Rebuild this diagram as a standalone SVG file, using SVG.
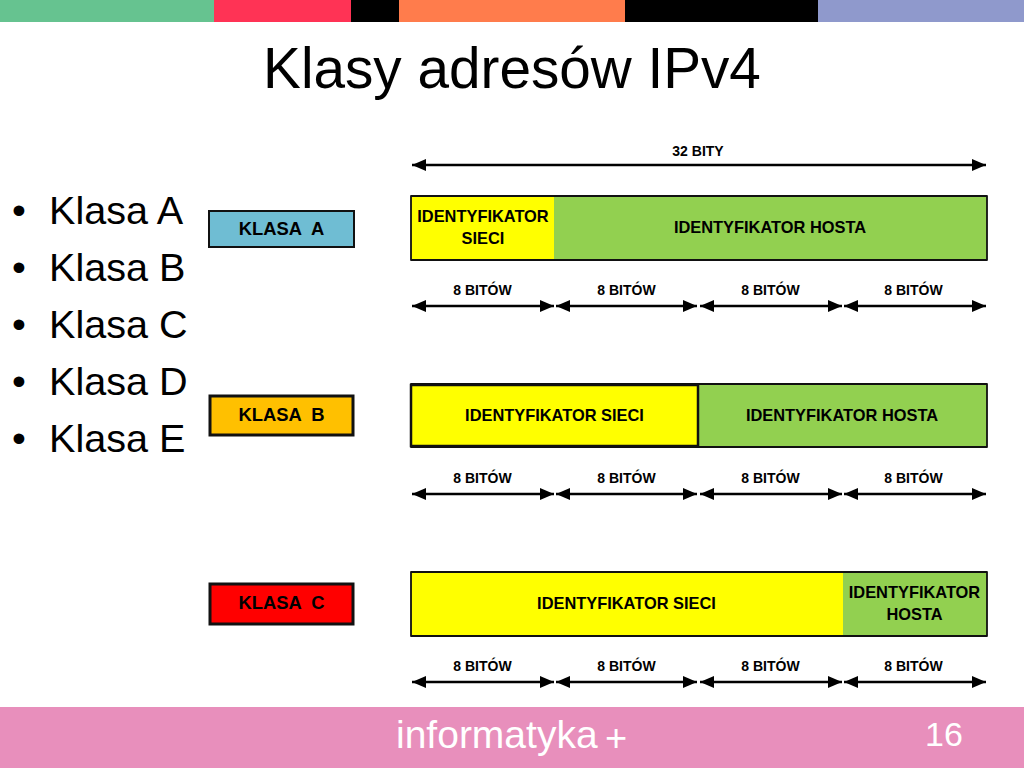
<svg xmlns="http://www.w3.org/2000/svg" width="1024" height="768" viewBox="0 0 1024 768">
<defs>
<marker id="ah" viewBox="0 0 14 12" refX="14" refY="6" markerWidth="14" markerHeight="12" markerUnits="userSpaceOnUse" orient="auto-start-reverse"><path d="M0 0L14 6L0 12Z" fill="#000"/></marker>
</defs>
<style>
text{font-family:"Liberation Sans",Arial,sans-serif}
.l{font-size:16.4px;font-weight:bold;text-anchor:middle;fill:#000}
.s{font-size:14px;font-weight:bold;text-anchor:middle;fill:#000}
.k{font-size:18.4px;font-weight:bold;text-anchor:middle;fill:#000;white-space:pre}
.b{font-size:39.6px;fill:#000}
.a{stroke:#000;stroke-width:2.4;fill:none;marker-start:url(#ah);marker-end:url(#ah)}
.o{fill:none;stroke:#111;stroke-width:1.800;stroke-linejoin:round}
.y{fill:#ffff00}.g{fill:#92d050}
</style>
<rect width="1024" height="768" fill="#fff"/>
<g id="top-bar">
<rect x="0" y="0" width="214" height="22" fill="#66c390"/>
<rect x="214" y="0" width="137" height="22" fill="#ff3355"/>
<rect x="351" y="0" width="48" height="22" fill="#000"/>
<rect x="399" y="0" width="226" height="22" fill="#ff7c4c"/>
<rect x="625" y="0" width="193" height="22" fill="#000"/>
<rect x="818" y="0" width="206" height="22" fill="#8f99cc"/>
</g>
<text id="title" x="512" y="88" font-size="56.700" text-anchor="middle" fill="#000">Klasy adresów IPv4</text>
<g id="list">
<text class="b" x="12" y="224">•</text><text class="b" x="49" y="224">Klasa A</text>
<text class="b" x="12" y="281">•</text><text class="b" x="49" y="281">Klasa B</text>
<text class="b" x="12" y="338">•</text><text class="b" x="49" y="338">Klasa C</text>
<text class="b" x="12" y="395">•</text><text class="b" x="49" y="395">Klasa D</text>
<text class="b" x="12" y="452">•</text><text class="b" x="49" y="452">Klasa E</text>
</g>
<g id="klasa-a"><rect x="209" y="211" width="145" height="36" fill="#6fbdd3" stroke="#111" stroke-width="2"/><text class="k" x="281.500" y="235">KLASA  A</text></g>
<g id="klasa-b"><rect x="210" y="396" width="143" height="39" fill="#ffc000" stroke="#111" stroke-width="3"/><text class="k" x="281.500" y="421">KLASA  B</text></g>
<g id="klasa-c"><rect x="210" y="584" width="143" height="40" fill="#ff0000" stroke="#111" stroke-width="3"/><text class="k" x="281.500" y="609">KLASA  C</text></g>
<g id="row-a">
<rect class="y" x="411" y="196" width="143" height="64"/><rect class="g" x="554" y="196" width="433" height="64"/>
<rect class="o" x="411" y="196" width="576" height="64"/>
<text class="l" x="483" y="222">IDENTYFIKATOR</text><text class="l" x="483" y="243.500">SIECI</text>
<text class="l" x="770" y="232.500">IDENTYFIKATOR HOSTA</text>
</g>
<g id="row-b">
<rect class="g" x="698" y="384" width="289" height="63"/>
<rect class="o" x="411" y="384" width="576" height="63"/>
<rect class="y" x="411" y="385" width="287" height="61" stroke="#111" stroke-width="2.500"/>
<text class="l" x="554.500" y="420.500">IDENTYFIKATOR SIECI</text>
<text class="l" x="842" y="420.500">IDENTYFIKATOR HOSTA</text>
</g>
<g id="row-c">
<rect class="y" x="411" y="572" width="432" height="64"/><rect class="g" x="843" y="572" width="144" height="64"/>
<rect class="o" x="411" y="572" width="576" height="64"/>
<text class="l" x="626.500" y="608.500">IDENTYFIKATOR SIECI</text>
<text class="l" x="914.500" y="598">IDENTYFIKATOR</text><text class="l" x="914.500" y="619.500">HOSTA</text>
</g>
<g id="connectors">
<line class="a" x1="412" y1="165" x2="986" y2="165"/>
<line class="a" x1="412" y1="306" x2="554" y2="306"/><line class="a" x1="556" y1="306" x2="697" y2="306"/><line class="a" x1="700" y1="306" x2="842" y2="306"/><line class="a" x1="844" y1="306" x2="986" y2="306"/>
<line class="a" x1="412" y1="494" x2="554" y2="494"/><line class="a" x1="556" y1="494" x2="697" y2="494"/><line class="a" x1="700" y1="494" x2="842" y2="494"/><line class="a" x1="844" y1="494" x2="986" y2="494"/>
<line class="a" x1="412" y1="682" x2="554" y2="682"/><line class="a" x1="556" y1="682" x2="697" y2="682"/><line class="a" x1="700" y1="682" x2="842" y2="682"/><line class="a" x1="844" y1="682" x2="986" y2="682"/>
</g>
<g id="labels">
<text class="s" x="698" y="156">32 BITY</text>
<text class="s" x="482.500" y="295">8 BITÓW</text><text class="s" x="626.500" y="295">8 BITÓW</text><text class="s" x="770.500" y="295">8 BITÓW</text><text class="s" x="913.500" y="295">8 BITÓW</text>
<text class="s" x="482.500" y="483">8 BITÓW</text><text class="s" x="626.500" y="483">8 BITÓW</text><text class="s" x="770.500" y="483">8 BITÓW</text><text class="s" x="913.500" y="483">8 BITÓW</text>
<text class="s" x="482.500" y="671">8 BITÓW</text><text class="s" x="626.500" y="671">8 BITÓW</text><text class="s" x="770.500" y="671">8 BITÓW</text><text class="s" x="913.500" y="671">8 BITÓW</text>
</g>
<g id="footer">
<rect x="0" y="707" width="1024" height="61" fill="#e88fbc"/>
<text x="396" y="748" font-size="39" fill="#fff">informatyka</text>
<text x="605" y="751" font-size="38" fill="#fff">+</text>
<text x="944" y="746" font-size="34" text-anchor="middle" fill="#fff">16</text>
</g>
</svg>
